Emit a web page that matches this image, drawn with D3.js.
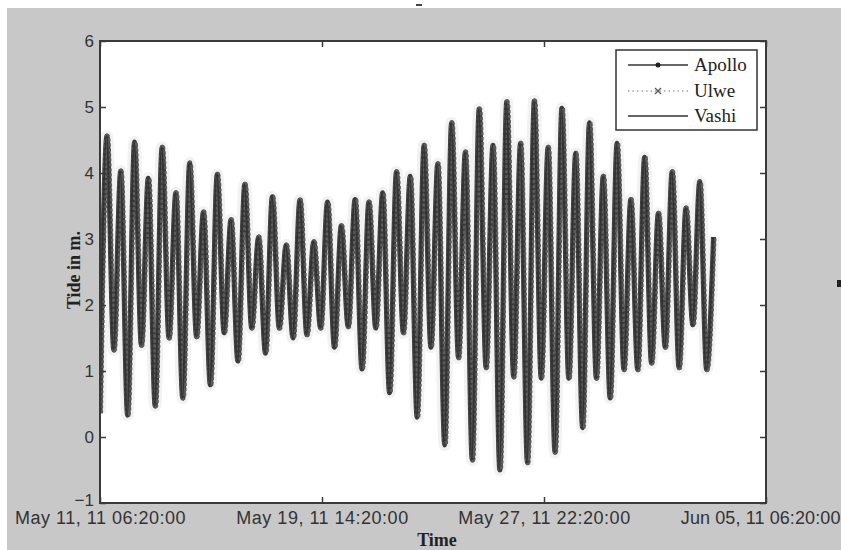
<!DOCTYPE html>
<html><head><meta charset="utf-8">
<script src="https://cdn.jsdelivr.net/npm/d3@7"></script>
<style>body{margin:0;background:#fff}svg{display:block}</style>
</head><body>
<script>
// ---- data ----
const seriesNames = ["Apollo", "Ulwe", "Vashi"];
const seriesLagHours = [0, 0.5, -0.4];          // small station phase lag
const tidalPeriodHours = 12.42;                 // spacing of successive lows
const lowWater = [0.36,1.32,0.33,1.39,0.47,1.5,0.59,1.52,0.79,1.58,1.15,1.65,1.27,1.65,1.5,
  1.55,1.65,1.36,1.67,1.03,1.65,0.67,1.58,0.30,1.36,-0.12,1.2,-0.35,1.05,-0.5,
  0.91,-0.39,0.89,-0.23,0.89,0.14,0.89,0.59,1.02,1.02,1.12,1.36,1.05,1.7,1.02];
const highWater = [4.56,4.03,4.47,3.92,4.39,3.70,4.15,3.41,3.98,3.29,3.83,3.03,3.64,2.91,3.59,
  2.96,3.56,3.2,3.6,3.56,3.70,4.02,3.95,4.42,4.14,4.76,4.32,4.97,4.42,5.08,
  4.45,5.09,4.39,4.98,4.30,4.76,3.95,4.45,3.60,4.24,3.39,4.02,3.47,3.87,3.03];
const yTicks = [-1, 0, 1, 2, 3, 4, 5, 6];
const xTickLabels = ["May 11, 11 06:20:00", "May 19, 11 14:20:00", "May 27, 11 22:20:00", "Jun 05, 11 06:20:00"];
const xTickHours = [0, 200, 400, 600];
const startTime = new Date(2011, 4, 11, 6, 20);
const endTime = new Date(2011, 5, 5, 6, 20);

// ---- layout ----
const W = 841, H = 550;
const L = 100, R = 766, T = 41, B = 503;
const svg = d3.select("body").append("svg").attr("width", W).attr("height", H);
svg.append("rect").attr("x", 7).attr("y", 8).attr("width", W - 7).attr("height", H - 8).attr("fill", "#c8c8c8");
svg.append("rect").attr("x", 416).attr("y", 4).attr("width", 6).attr("height", 2).attr("fill", "#444");
svg.append("rect").attr("x", 837).attr("y", 280).attr("width", 4).attr("height", 7).attr("fill", "#222");

const x = d3.scaleTime().domain([startTime, endTime]).range([L, R]);
const y = d3.scaleLinear().domain([-1, 6]).range([B, T]);
const hour = h => new Date(startTime.getTime() + h * 3600e3);

svg.append("rect").attr("x", L).attr("y", T).attr("width", R - L).attr("height", B - T).attr("fill", "#fff");
svg.append("clipPath").attr("id", "clip").append("rect").attr("x", L).attr("y", T).attr("width", R - L).attr("height", B - T);

// build extremes sequence per series
function seriesData(lag) {
  const pts = [];
  lowWater.forEach((v, i) => {
    pts.push({t: hour(i * tidalPeriodHours + lag), v: v});
    pts.push({t: hour(i * tidalPeriodHours + tidalPeriodHours / 2 + lag), v: highWater[i]});
  });
  return pts;
}
const line = d3.line().x(d => x(d.t)).y(d => y(d.v)).curve(d3.curveMonotoneX);
const g = svg.append("g").attr("clip-path", "url(#clip)");
// faint halo
g.append("path").datum(seriesData(0)).attr("d", line).attr("fill", "none")
  .attr("stroke", "#f2f2f2").attr("stroke-width", 12);
const styles = [
  {stroke: "#3c3c3c", width: 5, dash: null},
  {stroke: "#5c5c5c", width: 5, dash: "3,2"},
  {stroke: "#333", width: 2, dash: null}
];
seriesNames.forEach((name, k) => {
  const s = styles[k];
  g.append("path").datum(seriesData(seriesLagHours[k])).attr("d", line)
    .attr("fill", "none").attr("stroke", s.stroke).attr("stroke-width", s.width)
    .attr("stroke-dasharray", s.dash);
});

// ---- axes ----
const axisColor = "#3a3a3a";
const xTickVals = xTickHours.map(hour);
const fmtX = d => xTickLabels[xTickVals.findIndex(v => +v === +d)];
const axB = svg.append("g").attr("transform", `translate(0,${B})`)
  .call(d3.axisBottom(x).tickValues(xTickVals).tickFormat(fmtX).tickSizeInner(-6).tickSizeOuter(0).tickPadding(8));
const axT = svg.append("g").attr("transform", `translate(0,${T})`)
  .call(d3.axisTop(x).tickValues(xTickVals).tickFormat("").tickSizeInner(-6).tickSizeOuter(0));
const axL = svg.append("g").attr("transform", `translate(${L},0)`)
  .call(d3.axisLeft(y).tickValues(yTicks).tickFormat(d3.format("d")).tickSizeInner(-6).tickSizeOuter(0).tickPadding(6));
const axR = svg.append("g").attr("transform", `translate(${R},0)`)
  .call(d3.axisRight(y).tickValues(yTicks).tickFormat("").tickSizeInner(-6).tickSizeOuter(0));
[axB, axT, axL, axR].forEach(a => {
  a.select(".domain").remove();
  a.selectAll(".tick line").attr("stroke", axisColor).attr("stroke-width", 1.5);
  a.selectAll("text").attr("fill", "#333").attr("font-family", "Liberation Sans, Arial, sans-serif");
});
axB.selectAll("text").attr("font-size", 18).attr("letter-spacing", 0.5);
// keep the last date label inside the window
axB.selectAll(".tick").filter((d, i) => i === xTickVals.length - 1).select("text")
  .attr("text-anchor", "end").attr("x", W - 1 - R).attr("letter-spacing", 0.1);
axL.selectAll("text").attr("font-size", 17);
axL.selectAll(".tick").filter(d => d === -1).select("text").attr("dy", "0.12em");
svg.append("rect").attr("x", L).attr("y", T).attr("width", R - L).attr("height", B - T)
  .attr("fill", "none").attr("stroke", axisColor).attr("stroke-width", 2);

// axis titles
svg.append("text").attr("x", 437).attr("y", 546).attr("text-anchor", "middle")
  .attr("font-family", "Liberation Serif, Times New Roman, serif").attr("font-weight", "bold")
  .attr("font-size", 18).attr("fill", "#222").text("Time");
svg.append("text").attr("transform", "translate(80,270) rotate(-90)").attr("text-anchor", "middle")
  .attr("font-family", "Liberation Serif, Times New Roman, serif").attr("font-weight", "bold")
  .attr("font-size", 18).attr("fill", "#222").text("Tide in m.");

// ---- legend ----
const lg = svg.append("g");
lg.append("rect").attr("x", 616).attr("y", 50).attr("width", 141).attr("height", 80)
  .attr("fill", "#fff").attr("stroke", "#333").attr("stroke-width", 1.5);
const legendRows = [65, 91, 116];
seriesNames.forEach((name, k) => {
  const yy = legendRows[k];
  const ln = lg.append("line").attr("x1", 628).attr("x2", 688).attr("y1", yy).attr("y2", yy)
    .attr("stroke", k === 1 ? "#777" : "#333").attr("stroke-width", k === 1 ? 1.2 : 1.3);
  if (k === 1) ln.attr("stroke-dasharray", "1.5,3");
  if (k === 0) lg.append("circle").attr("cx", 658).attr("cy", yy).attr("r", 2.5).attr("fill", "#222");
  if (k === 1) lg.append("path").attr("d", `M655,${yy-3}L661,${yy+3}M655,${yy+3}L661,${yy-3}`).attr("stroke", "#555").attr("stroke-width", 1.2);
  lg.append("text").attr("x", 694).attr("y", yy + 6).attr("font-family", "Liberation Serif, Times New Roman, serif")
    .attr("font-size", 19).attr("fill", "#222").text(name);
});
</script>
</body></html>
